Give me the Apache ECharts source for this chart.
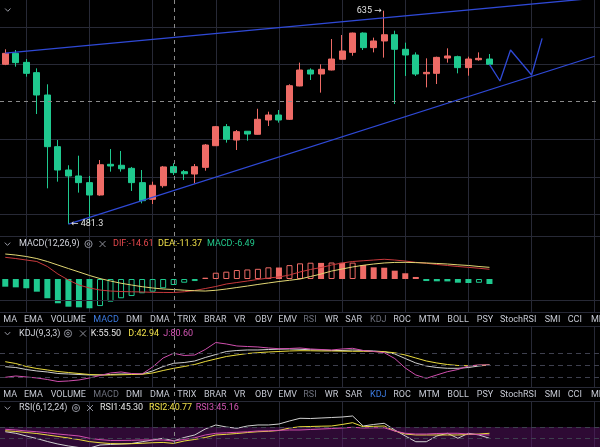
<!DOCTYPE html>
<html>
<head>
<meta charset="utf-8">
<title>K线 MACD KDJ RSI</title>
<script src="https://cdn.jsdelivr.net/npm/echarts@6/dist/echarts.min.js"></script>
<style>
  html, body { margin: 0; padding: 0; background: #000; }
  #main { width: 600px; height: 447px; }
</style>
</head>
<body>
<div id="main"></div>
<script>
// 57 个时间槽，前 47 根有K线，后面留空给画线
var categories = Array.from({ length: 57 }, function (_, i) { return String(i + 1); });

// [open, close, low, high]
var candles = [
  [596.4, 604.3, 595.8, 607.2], [604.3, 597.6, 594.7, 606.7], [597.8, 589.9, 587.5, 600.2],
  [590.4, 574.3, 560.6, 593.5], [574.3, 537.1, 507.1, 582.0], [537.1, 520.3, 511.9, 541.9],
  [520.3, 516.0, 481.3, 523.7], [516.0, 511.2, 504.0, 530.6], [511.2, 502.3, 482.4, 516.0],
  [502.3, 524.1, 501.8, 527.5], [524.4, 523.2, 519.1, 535.4], [523.7, 521.2, 519.1, 534.0],
  [521.5, 511.2, 505.2, 522.5], [511.2, 498.2, 496.3, 520.3], [499.2, 509.3, 495.8, 511.9],
  [509.0, 522.5, 507.6, 523.2], [522.7, 518.4, 516.7, 525.1], [519.1, 517.6, 513.1, 520.3],
  [517.4, 522.7, 510.7, 524.6], [522.2, 538.3, 519.8, 539.0], [537.8, 551.5, 537.6, 552.0],
  [551.5, 542.4, 540.0, 553.4], [541.9, 547.9, 534.7, 549.1], [548.2, 546.2, 541.4, 548.4],
  [546.0, 556.8, 545.8, 564.4], [556.3, 559.9, 552.0, 562.3], [559.9, 556.3, 554.4, 563.5],
  [556.8, 581.0, 556.3, 582.0], [580.8, 592.3, 580.6, 597.6], [592.3, 589.4, 585.1, 593.5],
  [589.4, 592.8, 576.0, 596.4], [592.3, 600.2, 592.0, 614.6], [600.0, 606.0, 599.8, 617.5],
  [605.0, 618.9, 602.6, 619.2], [618.9, 608.4, 606.7, 619.4], [608.4, 613.2, 605.0, 615.6],
  [613.2, 617.7, 601.2, 635.0], [617.7, 607.2, 567.8, 620.6], [607.2, 603.1, 588.0, 612.0],
  [603.1, 589.4, 588.0, 605.0], [589.6, 590.6, 579.8, 600.7], [589.9, 601.4, 582.2, 601.9],
  [600.9, 602.4, 597.6, 607.9], [601.9, 594.0, 589.9, 602.6], [594.0, 600.2, 588.2, 601.9],
  [599.7, 600.7, 599.0, 605.0], [600.2, 596.4, 596.0, 603.8]
];

// 画线 [index, price]
var upperTrend = [[0, 604.5], [56, 644.0]];
var lowerTrend = [[6, 481.3], [56, 602.2]];
var projection = [[46, 596.4], [47, 584.4], [48, 606.7], [50, 588.7], [51, 615.1]];

var highMark = [36, 635];
var lowMark = [6, 481.3];
var crossIndex = 16;
var crossPrice = 570.0;

var dif = [23.4, 22.1, 20.5, 18.9, 13.5, 5.4, -1.1, -6.5, -9.7, -11.9, -13.0, -13.5, -13.8, -14.0, -14.4, -14.5,
  -14.61, -13.8, -12.4, -10.3, -8.1, -5.4, -3.8, -2.2, -0.5, 1.1, 2.2, 4.3, 7.6, 10.3, 12.4, 15.1,
  17.3, 18.9, 19.7, 20.5, 21.3, 20.5, 19.4, 18.0, 17.0, 15.7, 14.6, 13.5, 12.6, 11.6, 10.5];
var dea = [27.0, 25.9, 24.3, 22.1, 18.9, 15.1, 11.3, 7.6, 3.8, 0.5, -2.2, -4.6, -6.5, -8.3, -9.7, -10.8,
  -11.37, -12.1, -12.7, -13.0, -12.2, -10.8, -9.2, -7.6, -5.9, -4.3, -2.7, -1.4, 0.0, 2.7, 5.4, 8.6,
  10.8, 13.0, 14.8, 16.2, 17.3, 17.9, 18.0, 17.7, 17.3, 16.8, 16.2, 15.3, 14.6, 13.5, 12.6];
var macdHist = [-8.3, -9.0, -10.0, -13.7, -20.8, -26.2, -29.9, -30.6, -31.6, -29.2, -24.5, -20.8, -18.4, -15.4, -13.7, -10.0,
  -6.49, -4.0, -2.2, 1.4, 6.8, 7.9, 9.7, 10.3, 11.0, 12.6, 12.4, 15.0, 16.9, 17.6, 17.4, 17.8,
  17.5, 17.7, 15.1, 12.6, 12.2, 9.0, 6.2, 2.2, -2.2, -2.5, -2.6, -4.0, -4.3, -4.1, -5.4];

var kLine = [47.0, 45.0, 40.0, 36.3, 33.8, 30.0, 28.8, 27.5, 26.3, 26.3, 27.5, 28.8, 28.8, 28.8, 36.3, 47.5,
  55.5, 57.5, 61.3, 70.0, 77.5, 85.0, 87.5, 88.8, 88.8, 90.0, 90.8, 91.3, 90.5, 89.3, 88.8, 87.5,
  87.5, 88.8, 87.5, 86.3, 84.5, 78.8, 67.5, 56.3, 48.8, 45.0, 43.0, 43.0, 45.0, 48.8, 51.3];
var dLine = [59.5, 55.0, 47.5, 42.5, 38.8, 35.0, 32.5, 30.0, 27.5, 26.3, 26.3, 26.8, 27.5, 28.0, 31.3, 37.5,
  42.94, 47.5, 52.5, 60.0, 66.3, 72.5, 76.3, 80.0, 82.0, 83.8, 85.0, 86.3, 87.0, 86.8, 86.3, 86.3,
  85.8, 85.5, 85.5, 85.0, 84.5, 81.8, 76.3, 68.8, 61.3, 56.3, 52.5, 50.0, 49.5, 50.5, 51.3];
var jLine = [20.5, 23.8, 21.3, 18.8, 15.0, 10.0, 11.3, 13.8, 18.8, 25.0, 31.3, 33.8, 30.0, 28.8, 46.3, 68.8,
  80.6, 75.0, 76.3, 90.0, 107.5, 103.8, 98.8, 97.5, 96.3, 93.8, 92.0, 92.5, 93.8, 91.3, 90.0, 88.8,
  91.3, 93.0, 87.5, 85.0, 82.0, 67.5, 43.8, 26.3, 18.0, 26.3, 34.5, 40.0, 48.8, 51.3, 51.3];

var rsi1 = [61.6, 58.8, 54.0, 49.5, 44.2, 39.7, 36.2, 33.5, 32.6, 38.0, 38.9, 39.7, 40.6, 43.8, 46.9, 49.9,
  45.3, 51.3, 55.8, 66.4, 73.6, 70.0, 67.7, 71.8, 73.6, 73.6, 75.3, 80.7, 85.5, 85.1, 86.0, 86.9,
  87.8, 89.6, 71.8, 74.5, 76.6, 64.7, 54.0, 43.8, 43.8, 54.0, 58.8, 49.9, 58.8, 55.8, 49.9];
var rsi2 = [63.4, 62.0, 60.2, 58.4, 55.8, 53.1, 50.5, 47.5, 44.0, 42.0, 40.5, 40.0, 40.3, 41.0, 42.0, 42.5,
  40.77, 45.1, 47.8, 51.3, 55.8, 57.0, 58.4, 60.2, 61.6, 62.3, 63.8, 68.2, 70.5, 70.9, 71.4, 71.8,
  74.5, 77.7, 70.5, 71.2, 71.8, 62.9, 57.5, 55.8, 55.8, 55.8, 55.8, 55.8, 56.7, 57.5, 58.8];
var rsi3 = [65.9, 64.7, 62.9, 61.6, 59.7, 57.5, 55.8, 54.0, 50.0, 47.5, 46.0, 46.0, 46.3, 46.9, 46.9, 46.9,
  45.16, 47.8, 50.8, 55.8, 58.8, 59.7, 60.6, 61.5, 62.9, 63.2, 64.1, 64.7, 64.7, 65.6, 66.4, 67.3,
  68.2, 69.5, 68.2, 68.6, 68.6, 62.9, 58.8, 57.5, 57.5, 58.4, 58.8, 58.8, 57.5, 56.7, 55.8];

var tabs = ['MA', 'EMA', 'VOLUME', 'MACD', 'DMI', 'DMA', 'TRIX', 'BRAR', 'VR', 'OBV', 'EMV', 'RSI',
  'WR', 'SAR', 'KDJ', 'ROC', 'MTM', 'BOLL', 'PSY', 'StochRSI', 'SMI', 'CCI', 'MFI'];
var tabX = [3.3, 24, 50.7, 93.3, 126, 150, 177.3, 204, 234, 255, 278.3, 303.3, 324.7, 345.3, 370,
  393.3, 418.7, 447.3, 476.7, 500, 544.7, 567.7, 591];

var gridColor = '#272936';
var upColor = '#ee6b66';
var downColor = '#1fc98f';
var trendColor = '#2f49d6';
var font = 'Roboto, "DejaVu Sans", sans-serif';

function pairs(list) {
  return list.map(function (p) { return [categories[p[0]], p[1]]; });
}

// 柱子：比前一根大就空心，否则实心
var histData = macdHist.map(function (v, i) {
  var prev = i === 0 ? v : macdHist[i - 1];
  var c = v > 0 ? upColor : downColor;
  if (prev < v) {
    return { value: v, itemStyle: { color: 'rgba(0,0,0,0)', borderColor: c, borderWidth: 1 } };
  }
  return { value: v, itemStyle: { color: c } };
});

function xAxisFor(g) {
  return {
    type: 'category', gridIndex: g, data: categories, boundaryGap: true,
    axisLine: { show: false }, axisTick: { show: false }, axisLabel: { show: false },
    splitLine: {
      show: true, alignWithLabel: true,
      interval: function (i) { return i % 6 === 2; },
      lineStyle: { color: gridColor, width: 1 }
    }
  };
}
function hiddenY(g, min, max) {
  return { type: 'value', gridIndex: g, min: min, max: max, show: false, splitLine: { show: false } };
}
function line(name, data, color, xi, yi, w) {
  return {
    name: name, type: 'line', xAxisIndex: xi, yAxisIndex: yi, data: data, symbol: 'none',
    silent: true, z: 3, lineStyle: { color: color, width: w || 1 }
  };
}
var dashStyle = { color: '#3e404e', width: 1, type: [5, 4] };
var clear = 'rgba(0,0,0,0)';

var option = {
  backgroundColor: '#000',
  animation: false,
  textStyle: { fontFamily: font },
  grid: [
    { left: 0, right: 0, top: 0, height: 236.5 },
    { left: 0, right: 0, top: 236.5, height: 75.5 },
    { left: 0, right: 0, top: 327, height: 60 },
    { left: 0, right: 0, top: 402, height: 45 },
    // 主图横向网格线
    { left: 0, right: 0, top: 27, height: 187.5 }
  ],
  xAxis: [xAxisFor(0), xAxisFor(1), xAxisFor(2), xAxisFor(3),
    { type: 'value', gridIndex: 4, min: 0, max: 1, show: false }],
  yAxis: [
    hiddenY(0, 472.42, 642.7),
    hiddenY(1, -35.64, 45.9),
    hiddenY(2, -3.75, 146.25),
    hiddenY(3, 34.4, 114.5),
    {
      type: 'value', gridIndex: 4, min: 0, max: 187.5, interval: 37.5,
      axisLine: { show: false }, axisTick: { show: false }, axisLabel: { show: false },
      splitLine: { show: true, lineStyle: { color: [gridColor, gridColor, gridColor, clear, gridColor, gridColor] } }
    }
  ],
  series: [
    {
      type: 'candlestick', xAxisIndex: 0, yAxisIndex: 0, data: candles, barWidth: 6.5, silent: true,
      itemStyle: { color: upColor, color0: downColor, borderColor: upColor, borderColor0: downColor, borderWidth: 1 },
      markPoint: {
        symbol: 'circle', symbolSize: 1, silent: true,
        itemStyle: { color: clear },
        label: { show: true, color: '#e2e2e2', fontSize: 9, fontFamily: font, distance: 2 },
        data: [
          { coord: [categories[highMark[0]], highMark[1]], label: { position: 'left', formatter: highMark[1] + ' →' } },
          { coord: [categories[lowMark[0]], lowMark[1]], label: { position: 'right', formatter: '← ' + lowMark[1] } }
        ]
      },
      markLine: {
        silent: true, symbol: 'none', label: { show: false },
        lineStyle: { color: '#8a8a8a', width: 1, type: [4, 4] },
        data: [{ yAxis: crossPrice }]
      }
    },
    line('upper', pairs(upperTrend), trendColor, 0, 0, 1.3),
    line('lower', pairs(lowerTrend), trendColor, 0, 0, 1.3),
    line('projection', pairs(projection), trendColor, 0, 0, 1.3),
    {
      name: 'MACD', type: 'bar', xAxisIndex: 1, yAxisIndex: 1, data: histData, barWidth: 6, silent: true
    },
    line('DIF', dif, '#c8393c', 1, 1),
    line('DEA', dea, '#e2d774', 1, 1),
    Object.assign(line('K', kLine, '#cfcfcf', 2, 2), {
      markLine: { silent: true, symbol: 'none', label: { show: false }, lineStyle: dashStyle,
        data: [{ yAxis: 20 }, { yAxis: 50 }, { yAxis: 80 }] }
    }),
    line('D', dLine, '#eadb3e', 2, 2),
    line('J', jLine, '#d04fae', 2, 2),
    Object.assign(line('RSI1', rsi1, '#cfcfcf', 3, 3), {
      markArea: { silent: true, itemStyle: { color: 'rgba(92,20,104,0.5)' }, data: [[{ yAxis: 70 }, { yAxis: 30 }]] },
      markLine: { silent: true, symbol: 'none', label: { show: false }, lineStyle: dashStyle,
        data: [{ yAxis: 70 }, { yAxis: 50 }] }
    }),
    line('RSI2', rsi2, '#eadb3e', 3, 3),
    line('RSI3', rsi3, '#d04fae', 3, 3)
  ]
};

var chart = echarts.init(document.getElementById('main'));
chart.setOption(option);

function text(x, y, str, color) {
  return { type: 'text', x: x, y: y, silent: true, z: 100,
    style: { text: str, fill: color, fontSize: 9, fontFamily: font, verticalAlign: 'middle' } };
}
function hline(y) {
  return { type: 'line', silent: true, z: 90, shape: { x1: 0, y1: y, x2: 600, y2: y },
    style: { stroke: gridColor, lineWidth: 1 } };
}
function chevron(x, y) {
  return { type: 'polyline', silent: true, z: 100,
    shape: { points: [[x - 2.7, y - 1.4], [x, y + 1.4], [x + 2.7, y - 1.4]] },
    style: { stroke: '#9a9ca6', lineWidth: 1, fill: null } };
}
function icons(gx, cx, y) {
  var c = '#8d8f99';
  return [
    { type: 'circle', silent: true, z: 100, shape: { cx: gx, cy: y, r: 3.6 }, style: { stroke: c, fill: null, lineWidth: 1 } },
    { type: 'circle', silent: true, z: 100, shape: { cx: gx, cy: y, r: 1.3 }, style: { stroke: c, fill: null, lineWidth: 1 } },
    { type: 'line', silent: true, z: 100, shape: { x1: cx - 3, y1: y - 3, x2: cx + 3, y2: y + 3 }, style: { stroke: c, lineWidth: 1 } },
    { type: 'line', silent: true, z: 100, shape: { x1: cx - 3, y1: y + 3, x2: cx + 3, y2: y - 3 }, style: { stroke: c, lineWidth: 1 } }
  ];
}
function tabRow(y, active, dim) {
  return tabs.map(function (t, i) {
    var col = t === active ? '#3d7be0' : (dim.indexOf(t) >= 0 ? '#6d707c' : '#c5c8d2');
    return text(tabX[i], y, t, col);
  });
}
function fmt(v) { return v.toFixed(2); }

var crossX = Math.round(chart.convertToPixel({ xAxisIndex: 0 }, categories[crossIndex])) + 0.5;
var ci = crossIndex;
var els = [
  hline(236.5), hline(300.5), hline(312.5), hline(326.5), hline(387.5), hline(401.5),
  chevron(7.8, 9.9),
  chevron(7.5, 244), text(19, 244, 'MACD(12,26,9)', '#d0d2da'),
  text(113, 244, 'DIF:' + fmt(dif[ci]), '#e5484d'),
  text(158, 244, 'DEA:' + fmt(dea[ci]), '#f0e04a'),
  text(207, 244, 'MACD:' + fmt(macdHist[ci]), '#22c98c'),
  chevron(7.5, 333.5), text(19, 333.5, 'KDJ(9,3,3)', '#d0d2da'),
  text(90.7, 333.5, 'K:' + fmt(kLine[ci]), '#e6e6e6'),
  text(128.3, 333.5, 'D:' + fmt(dLine[ci]), '#f0e04a'),
  text(163.3, 333.5, 'J:' + fmt(jLine[ci]), '#d457b5'),
  chevron(7.5, 408), text(19, 408, 'RSI(6,12,24)', '#d0d2da'),
  text(100, 408, 'RSI1:' + fmt(rsi1[ci]), '#e6e6e6'),
  text(149, 408, 'RSI2:' + fmt(rsi2[ci]), '#f0e04a'),
  text(195.7, 408, 'RSI3:' + fmt(rsi3[ci]), '#d457b5'),
  { type: 'line', silent: true, z: 95, shape: { x1: crossX, y1: 0, x2: crossX, y2: 447 },
    style: { stroke: '#8a8a8a', lineWidth: 1, lineDash: [4, 4] } }
].concat(icons(88.5, 102.5, 244), icons(68, 83, 333.5), icons(76, 90, 408),
  tabRow(319.5, 'MACD', ['KDJ', 'RSI']), tabRow(394.5, 'KDJ', ['MACD', 'RSI']));

chart.setOption({ graphic: els });
</script>
</body>
</html>
